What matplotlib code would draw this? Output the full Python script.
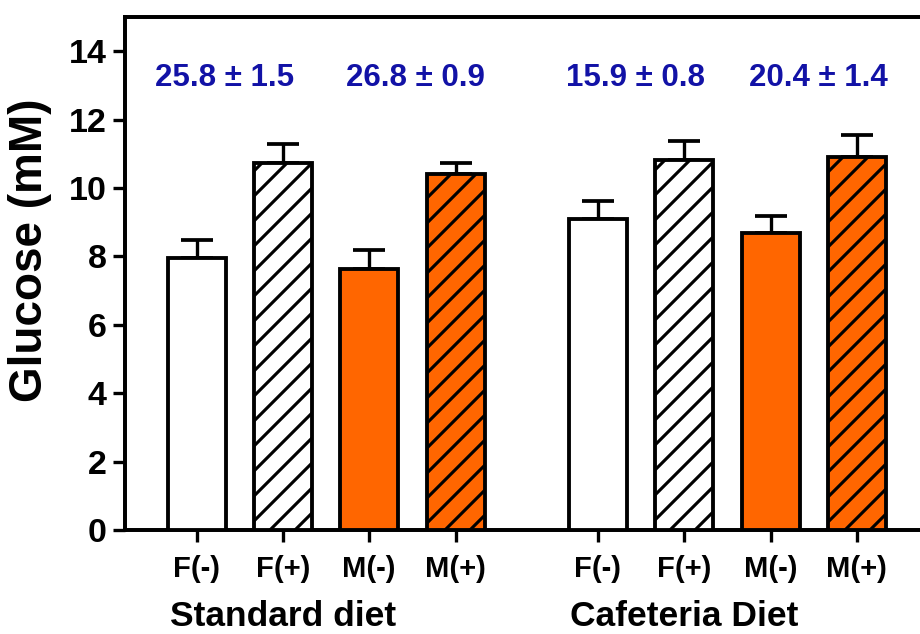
import matplotlib
matplotlib.use("Agg")
import matplotlib.pyplot as plt
import matplotlib.transforms as mtransforms

# ---- data ----
tick_labels = ["F(-)", "F(+)", "M(-)", "M(+)", "F(-)", "F(+)", "M(-)", "M(+)"]
standard_means = [7.95, 10.72, 7.62, 10.42]
standard_err_top = [8.48, 11.30, 8.19, 10.74]
cafeteria_means = [9.10, 10.83, 8.68, 10.92]
cafeteria_err_top = [9.63, 11.38, 9.17, 11.55]
group_labels = ["Standard diet", "Cafeteria Diet"]
annotations = ["25.8 ± 1.5", "26.8 ± 0.9", "15.9 ± 0.8", "20.4 ± 1.4"]

plt.rcParams['font.family'] = ['Liberation Sans', 'DejaVu Sans']
plt.rcParams['font.weight'] = 'bold'
plt.rcParams['hatch.linewidth'] = 1.5

DPI = 150
W, H = 920, 634
fig = plt.figure(figsize=(W / DPI, H / DPI), dpi=DPI)

px = 86.3  # pixels per x unit
xmin, xmax = -0.83, 8.6
left_px, bottom_px, top_px = 125, 530, 17
ax = fig.add_axes([left_px / W, (H - bottom_px) / H,
                   (xmax - xmin) * px / W, (bottom_px - top_px) / H])

gap = 1.65
xs = [0, 1, 2, 3] + [3 + gap + i for i in range(4)]
means = standard_means + cafeteria_means
tops = standard_err_top + cafeteria_err_top
faces = ["white", "white", "#ff6600", "#ff6600"] * 2
hatches = [None, "//", None, "//"] * 2

width = 58 / px
lw = 1.85
for x, m, fc, h in zip(xs, means, faces, hatches):
    ax.bar(x, m, width=width, color=fc, edgecolor="black", linewidth=lw,
           hatch=h, zorder=3)

upper = [t - m for t, m in zip(tops, means)]
ax.errorbar(xs, means, yerr=[[0] * len(xs), upper], fmt="none",
            ecolor="black", elinewidth=1.6, capsize=7.7, capthick=1.8, zorder=2)

ax.set_xlim(xmin, xmax)
ax.set_ylim(0, 15)
ax.set_yticks(range(0, 15, 2))
ax.set_xticks(xs)
ax.set_xticklabels(tick_labels)

for s in ax.spines.values():
    s.set_linewidth(1.9)
ax.spines['right'].set_visible(False)

ax.tick_params(axis='y', length=5.8, width=1.6, pad=3, labelsize=16.3)
ax.tick_params(axis='x', length=5.8, width=1.6, pad=6, labelsize=14)
for lab in ax.get_xticklabels() + ax.get_yticklabels():
    lab.set_fontweight('bold')

# annotations
ann_x = [0.32, 2.53, 5.09, 7.21]
for x, t in zip(ann_x, annotations):
    ax.text(x, 13.23, t, color="#1212a6", fontsize=15, fontweight="bold",
            ha="center", va="center", zorder=5)

# group labels
trans = mtransforms.blended_transform_factory(ax.transData, ax.transAxes)
for x, g in zip([xs[1], xs[5]], group_labels):
    ax.text(x, (bottom_px - 626) / (bottom_px - top_px), g, transform=trans,
            ha="center", va="baseline",
            fontsize=17, fontweight="bold", clip_on=False)

fig.text(30 / W, 1 - 250 / H, "Glucose (mM)", rotation=90, ha="center",
         va="center", fontsize=22, fontweight="bold")

fig.savefig("out.png", dpi=DPI)
